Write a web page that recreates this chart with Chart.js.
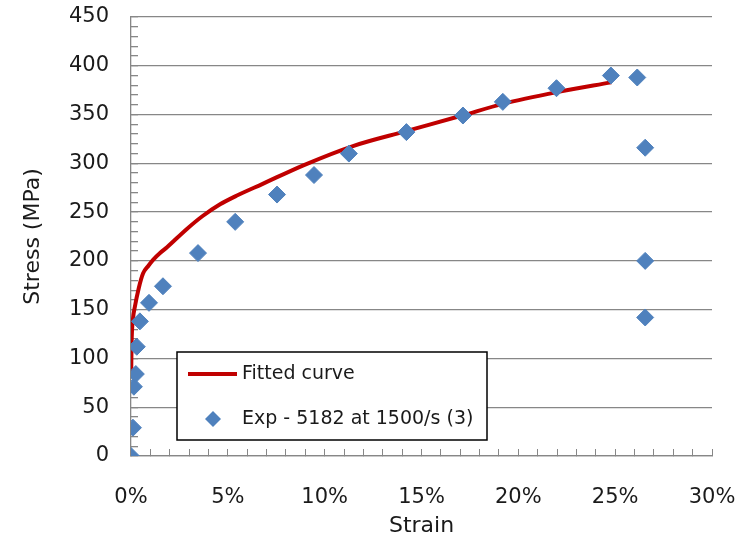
<!DOCTYPE html>
<html>
<head>
<meta charset="utf-8">
<script src="https://cdn.jsdelivr.net/npm/chart.js@4.4.0/dist/chart.umd.min.js"></script>
<style>
  html, body { margin: 0; padding: 0; background: #fff; }
  #wrap { width: 738px; height: 539px; }
</style>
</head>
<body>
<div id="wrap"><canvas id="chart"></canvas></div>
<script>
// experimental points (strain in %, stress in MPa)
const expStrain = [0, 0.1, 0.15, 0.25, 0.3, 0.46, 0.93, 1.65, 3.46, 5.38, 7.54, 9.45, 11.25, 14.22, 17.14, 19.2, 21.97, 24.78, 26.14, 26.55, 26.55, 26.55];
const expStress = [0, 29, 71, 84, 112, 138, 157, 174, 208, 240, 268, 288, 310, 332, 349, 363, 377, 390, 388, 316, 200, 142];

// fitted curve
const fitStrain = [0.01, 0.03, 0.1, 0.2, 0.4, 0.62, 0.9, 1.14, 1.5, 1.86, 2.9, 3.7, 4.6, 5.47, 6.8, 8.9, 11.5, 14.2, 17.1, 19.2, 22, 24.8];
const fitStress = [86, 115, 140, 153, 172, 187, 195, 201, 208, 214, 233, 246, 258, 267, 279, 298, 318, 333, 349, 361, 373, 383];

const seriesNames = ["Fitted curve", "Exp - 5182 at 1500/s (3)"];
const xLabels = ["0%", "5%", "10%", "15%", "20%", "25%", "30%"];
const yLabels = ["0", "50", "100", "150", "200", "250", "300", "350", "400", "450"];

const red = "#C00000";
const blue = "#4F81BD";
const gray = "#878787";
const textColor = "#1a1a1a";
const font = "DejaVu Sans";

const toPoints = (xs, ys) => xs.map((x, i) => ({ x: x, y: ys[i] }));

// keep the plot area where the reference has it (tick padding would push it in)
const noPad = (s) => {
  s.paddingLeft = 0;
  s.paddingRight = 0;
  s.paddingTop = 0;
  s.paddingBottom = 0;
};

// Excel style legend box inside the plot
const boxLegend = {
  id: "boxLegend",
  afterDraw(chart) {
    const ctx = chart.ctx;
    const x0 = 177, y0 = 352, w = 310, h = 88;
    ctx.save();
    ctx.fillStyle = "#fff";
    ctx.fillRect(x0, y0, w, h);
    ctx.strokeStyle = "#000";
    ctx.lineWidth = 1.5;
    ctx.strokeRect(x0, y0, w, h);

    ctx.strokeStyle = red;
    ctx.lineWidth = 4;
    ctx.beginPath();
    ctx.moveTo(188, 374);
    ctx.lineTo(237, 374);
    ctx.stroke();

    ctx.fillStyle = blue;
    ctx.beginPath();
    ctx.moveTo(213, 411);
    ctx.lineTo(221, 419);
    ctx.lineTo(213, 427);
    ctx.lineTo(205, 419);
    ctx.closePath();
    ctx.fill();

    ctx.fillStyle = textColor;
    ctx.font = "19px '" + font + "'";
    ctx.textBaseline = "middle";
    ctx.textAlign = "left";
    ctx.fillText(seriesNames[0], 242, 374);
    ctx.fillText(seriesNames[1], 242, 419);
    ctx.restore();
  }
};

new Chart(document.getElementById("chart"), {
  type: "scatter",
  data: {
    datasets: [
      {
        label: seriesNames[0],
        data: toPoints(fitStrain, fitStress),
        showLine: true,
        borderColor: red,
        backgroundColor: red,
        borderWidth: 4,
        pointRadius: 0,
        cubicInterpolationMode: "monotone",
        order: 2
      },
      {
        label: seriesNames[1],
        data: toPoints(expStrain, expStress),
        showLine: false,
        pointStyle: "rectRot",
        pointRadius: 8.5,
        pointHoverRadius: 8.5,
        backgroundColor: blue,
        borderColor: blue,
        borderWidth: 1,
        order: 1
      }
    ]
  },
  options: {
    responsive: true,
    maintainAspectRatio: false,
    animation: false,
    layout: { padding: { top: 17, right: 26, bottom: 0, left: 0 } },
    plugins: {
      legend: { display: false },
      tooltip: { enabled: false }
    },
    scales: {
      x: {
        type: "linear",
        min: 0,
        max: 30,
        afterFit: (s) => { s.height = 83; noPad(s); },
        border: { color: gray, width: 1.3 },
        grid: {
          drawOnChartArea: false,
          tickLength: -7,
          tickColor: gray,
          tickWidth: 1
        },
        ticks: {
          stepSize: 1,
          autoSkip: false,
          maxRotation: 0,
          padding: 36,
          color: textColor,
          font: { family: font, size: 21 },
          callback: (v) => (v % 5 === 0 ? xLabels[v / 5] : "")
        },
        title: {
          display: true,
          text: "Strain",
          color: textColor,
          font: { family: font, size: 22 },
          padding: { top: 0, bottom: 0 }
        }
      },
      y: {
        min: 0,
        max: 450,
        afterFit: (s) => { s.width = 131; noPad(s); },
        border: { color: gray, width: 1.3 },
        grid: {
          color: (c) => (c.tick && c.tick.value % 50 === 0 ? gray : "rgba(0,0,0,0)"),
          tickColor: gray,
          tickLength: -7,
          lineWidth: 1.3
        },
        ticks: {
          stepSize: 10,
          autoSkip: false,
          padding: 29,
          color: textColor,
          font: { family: font, size: 21 },
          callback: (v) => (v % 50 === 0 ? yLabels[v / 50] : "")
        },
        title: {
          display: true,
          text: "Stress (MPa)",
          color: textColor,
          font: { family: font, size: 22 },
          padding: { top: 20, bottom: 0 }
        }
      }
    }
  },
  plugins: [boxLegend]
});
</script>
</body>
</html>
